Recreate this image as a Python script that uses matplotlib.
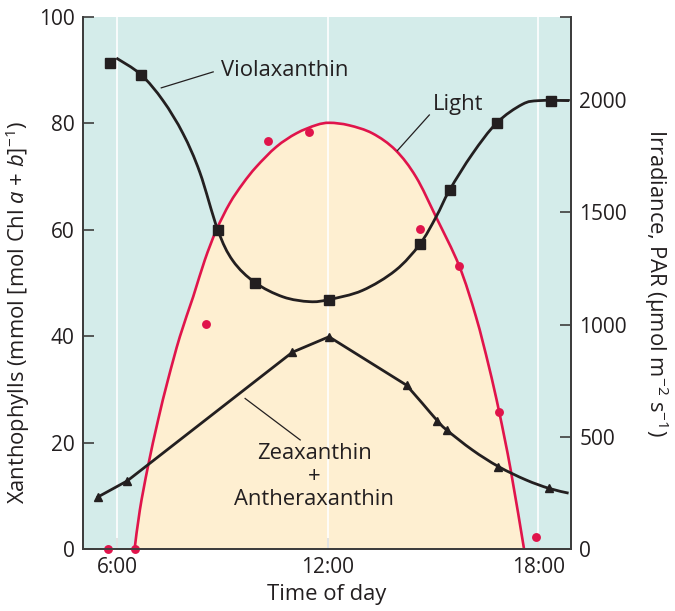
import numpy as np
import matplotlib
matplotlib.use("Agg")
import matplotlib.pyplot as plt
from matplotlib.path import Path
from matplotlib.patches import PathPatch

plt.rcParams['font.family'] = ['Open Sans', 'DejaVu Sans']
plt.rcParams['mathtext.fontset'] = 'custom'
plt.rcParams['mathtext.rm'] = 'Open Sans'
plt.rcParams['mathtext.it'] = 'Open Sans:italic'

# --- data (time in hours) ---
# light curve (irradiance, PAR)
luz_t = [6.50, 6.65, 6.88, 7.17, 7.45, 7.79, 8.17, 8.50, 8.83, 9.21, 9.59, 9.97,
         10.54, 11.11, 11.68, 12.06, 12.61, 13.28, 13.94, 14.52, 15.09, 15.75,
         16.23, 16.60, 16.89, 17.22, 17.60]
luz_v = [0, 174, 367, 575, 753, 946, 1124, 1287, 1421, 1540, 1629, 1703,
         1792, 1852, 1889, 1899, 1888, 1852, 1777, 1658, 1480, 1262,
         1035, 812, 612, 352, 0]
# light measurements
luz_pt_t = [5.75, 6.51, 8.53, 10.31, 11.46, 14.64, 15.75, 16.89, 17.95]
luz_pt_v = [0, 0, 1002, 1816, 1857, 1424, 1262, 612, 52]

# violaxanthin: measured points and fitted curve
viola_t = [5.79, 6.68, 8.87, 9.93, 12.04, 14.63, 15.48, 16.82, 18.36]
viola_v = [91.4, 89.2, 60.0, 50.1, 46.9, 57.3, 67.5, 80.1, 84.3]
viola_curva_t = [5.98, 6.68, 7.31, 7.88, 8.36, 8.87, 9.30, 9.93, 10.73, 11.49,
                 12.04, 12.99, 13.94, 14.63, 15.09, 15.48, 16.13, 16.82, 17.55,
                 18.03, 18.89]
viola_curva_v = [92.3, 89.2, 84.3, 78.1, 70.8, 60.0, 54.2, 50.1, 47.4, 46.5,
                 46.9, 48.6, 52.4, 57.3, 62.4, 67.5, 74.3, 80.1, 83.6,
                 84.3, 84.3]

# zeaxanthin + antheraxanthin
zea_t = [5.46, 6.29, 11.00, 12.04, 14.25, 15.13, 15.39, 16.87, 18.31]
zea_v = [9.8, 12.8, 37.0, 39.9, 30.8, 24.1, 22.4, 15.5, 11.4]
zea_recta_t = [5.46, 6.29, 11.00, 12.04, 14.25]
zea_recta_v = [9.8, 12.8, 37.0, 39.9, 30.8]
zea_curva_t = [14.25, 14.70, 15.13, 15.39, 16.13, 16.87, 17.65, 18.31, 18.87]
zea_curva_v = [30.8, 27.4, 24.1, 22.4, 18.6, 15.5, 13.0, 11.4, 10.5]

horas = [6, 12, 18]
horas_txt = ["6:00", "12:00", "18:00"]

teal = "#d4ecea"
crema = "#feefd1"
rojo = "#e0144b"
negro = "#231f20"
gris = "#3d3d3d"
fs = 15.8


def trazo_suave(xs, ys, cerrar=False):
    # curva de Bezier que pasa por los puntos leidos (Catmull-Rom)
    p = np.column_stack([xs, ys]).astype(float)
    n = len(p)
    verts = [p[0]]
    codes = [Path.MOVETO]
    for i in range(n - 1):
        pm = p[i - 1] if i > 0 else p[i]
        pp = p[i + 2] if i + 2 < n else p[i + 1]
        verts += [p[i] + (p[i + 1] - pm) / 6, p[i + 1] - (pp - p[i]) / 6, p[i + 1]]
        codes += [Path.CURVE4] * 3
    if cerrar:
        verts.append(p[0])
        codes.append(Path.CLOSEPOLY)
    return Path(verts, codes)


fig = plt.figure(figsize=(6.75, 6.11), dpi=100)
ax_luz = fig.add_axes([0.123, 0.1015, 0.723, 0.8705])
ax = ax_luz.twinx()

# eje de luz (abajo, con fondo)
ax_luz.set_facecolor(teal)
ax_luz.add_patch(PathPatch(trazo_suave(luz_t, luz_v, cerrar=True), facecolor=crema,
                           edgecolor="none", zorder=1))
for h in horas:
    ax_luz.axvline(h, color="white", lw=1.2, zorder=2)
ax_luz.add_patch(PathPatch(trazo_suave(luz_t, luz_v), facecolor="none", edgecolor=rojo,
                           lw=1.9, zorder=3))
ax_luz.plot(luz_pt_t, luz_pt_v, 'o', color=rojo, ms=6.4, mec="none", zorder=4, clip_on=False)
ax_luz.set_xlim(5.03, 18.94)
ax_luz.set_ylim(0, 2370)
ax_luz.yaxis.tick_right()
ax_luz.yaxis.set_label_position("right")
ax_luz.set_yticks([0, 500, 1000, 1500, 2000, 2370])
ax_luz.set_yticklabels(["0", "500", "1000", "1500", "2000", ""])
ax_luz.set_ylabel("Irradiance, PAR (μmol m$^{-2}$ s$^{-1}$)", rotation=270,
                  fontsize=fs, color=negro, va="center", ha="center")
ax_luz.yaxis.set_label_coords(1.174, 0.50)

# eje de xantofilas (arriba, transparente)
ax.patch.set_visible(False)
ax.yaxis.tick_left()
ax.yaxis.set_label_position("left")
ax.set_ylim(0, 100)
ax.set_yticks([0, 20, 40, 60, 80, 100])
ax.set_ylabel("Xanthophylls (mmol [mol Chl $a$ + $b$]$^{-1}$)", fontsize=fs, color=negro,
              va="center", ha="center")
ax.yaxis.set_label_coords(-0.133, 0.445)

ax.add_patch(PathPatch(trazo_suave(viola_curva_t, viola_curva_v), facecolor="none",
                       edgecolor=negro, lw=2.0, zorder=5))
ax.plot(viola_t, viola_v, 's', color=negro, ms=6.5, zorder=6, clip_on=False)
ax.plot(zea_recta_t, zea_recta_v, color=negro, lw=2.0, zorder=5)
ax.add_patch(PathPatch(trazo_suave(zea_curva_t, zea_curva_v), facecolor="none",
                       edgecolor=negro, lw=2.0, zorder=5))
ax.plot(zea_t, zea_v, '^', color=negro, ms=5.5, zorder=6)

ax_luz.set_xticks(horas)
ax_luz.set_xticklabels(horas_txt)
ax_luz.set_xlabel("Time of day", fontsize=fs, color=negro, labelpad=4)

for a in (ax, ax_luz):
    a.spines["top"].set_visible(False)
    for s in ("left", "right", "bottom"):
        a.spines[s].set_color(gris)
        a.spines[s].set_linewidth(1.3)
    a.tick_params(direction="in", length=8, width=1.2, color=gris,
                  labelsize=15, labelcolor=negro, pad=6)

# anotaciones
ax.plot([7.26, 8.74], [86.7, 89.7], color=negro, lw=0.9, zorder=6)
ax.text(8.96, 90.0, "Violaxanthin", fontsize=fs, color=negro, va="center", ha="left")
ax.plot([13.99, 14.90], [74.9, 81.6], color=negro, lw=0.9, zorder=6)
ax.text(15.01, 83.6, "Light", fontsize=fs, color=negro, va="center", ha="left")
ax.plot([9.65, 11.22], [28.3, 20.5], color=negro, lw=0.9, zorder=6)
ax.text(11.62, 13.7, "Zeaxanthin\n+\nAntheraxanthin", fontsize=fs, color=negro,
        va="center", ha="center", linespacing=1.12)

fig.savefig("out.png", dpi=100)
